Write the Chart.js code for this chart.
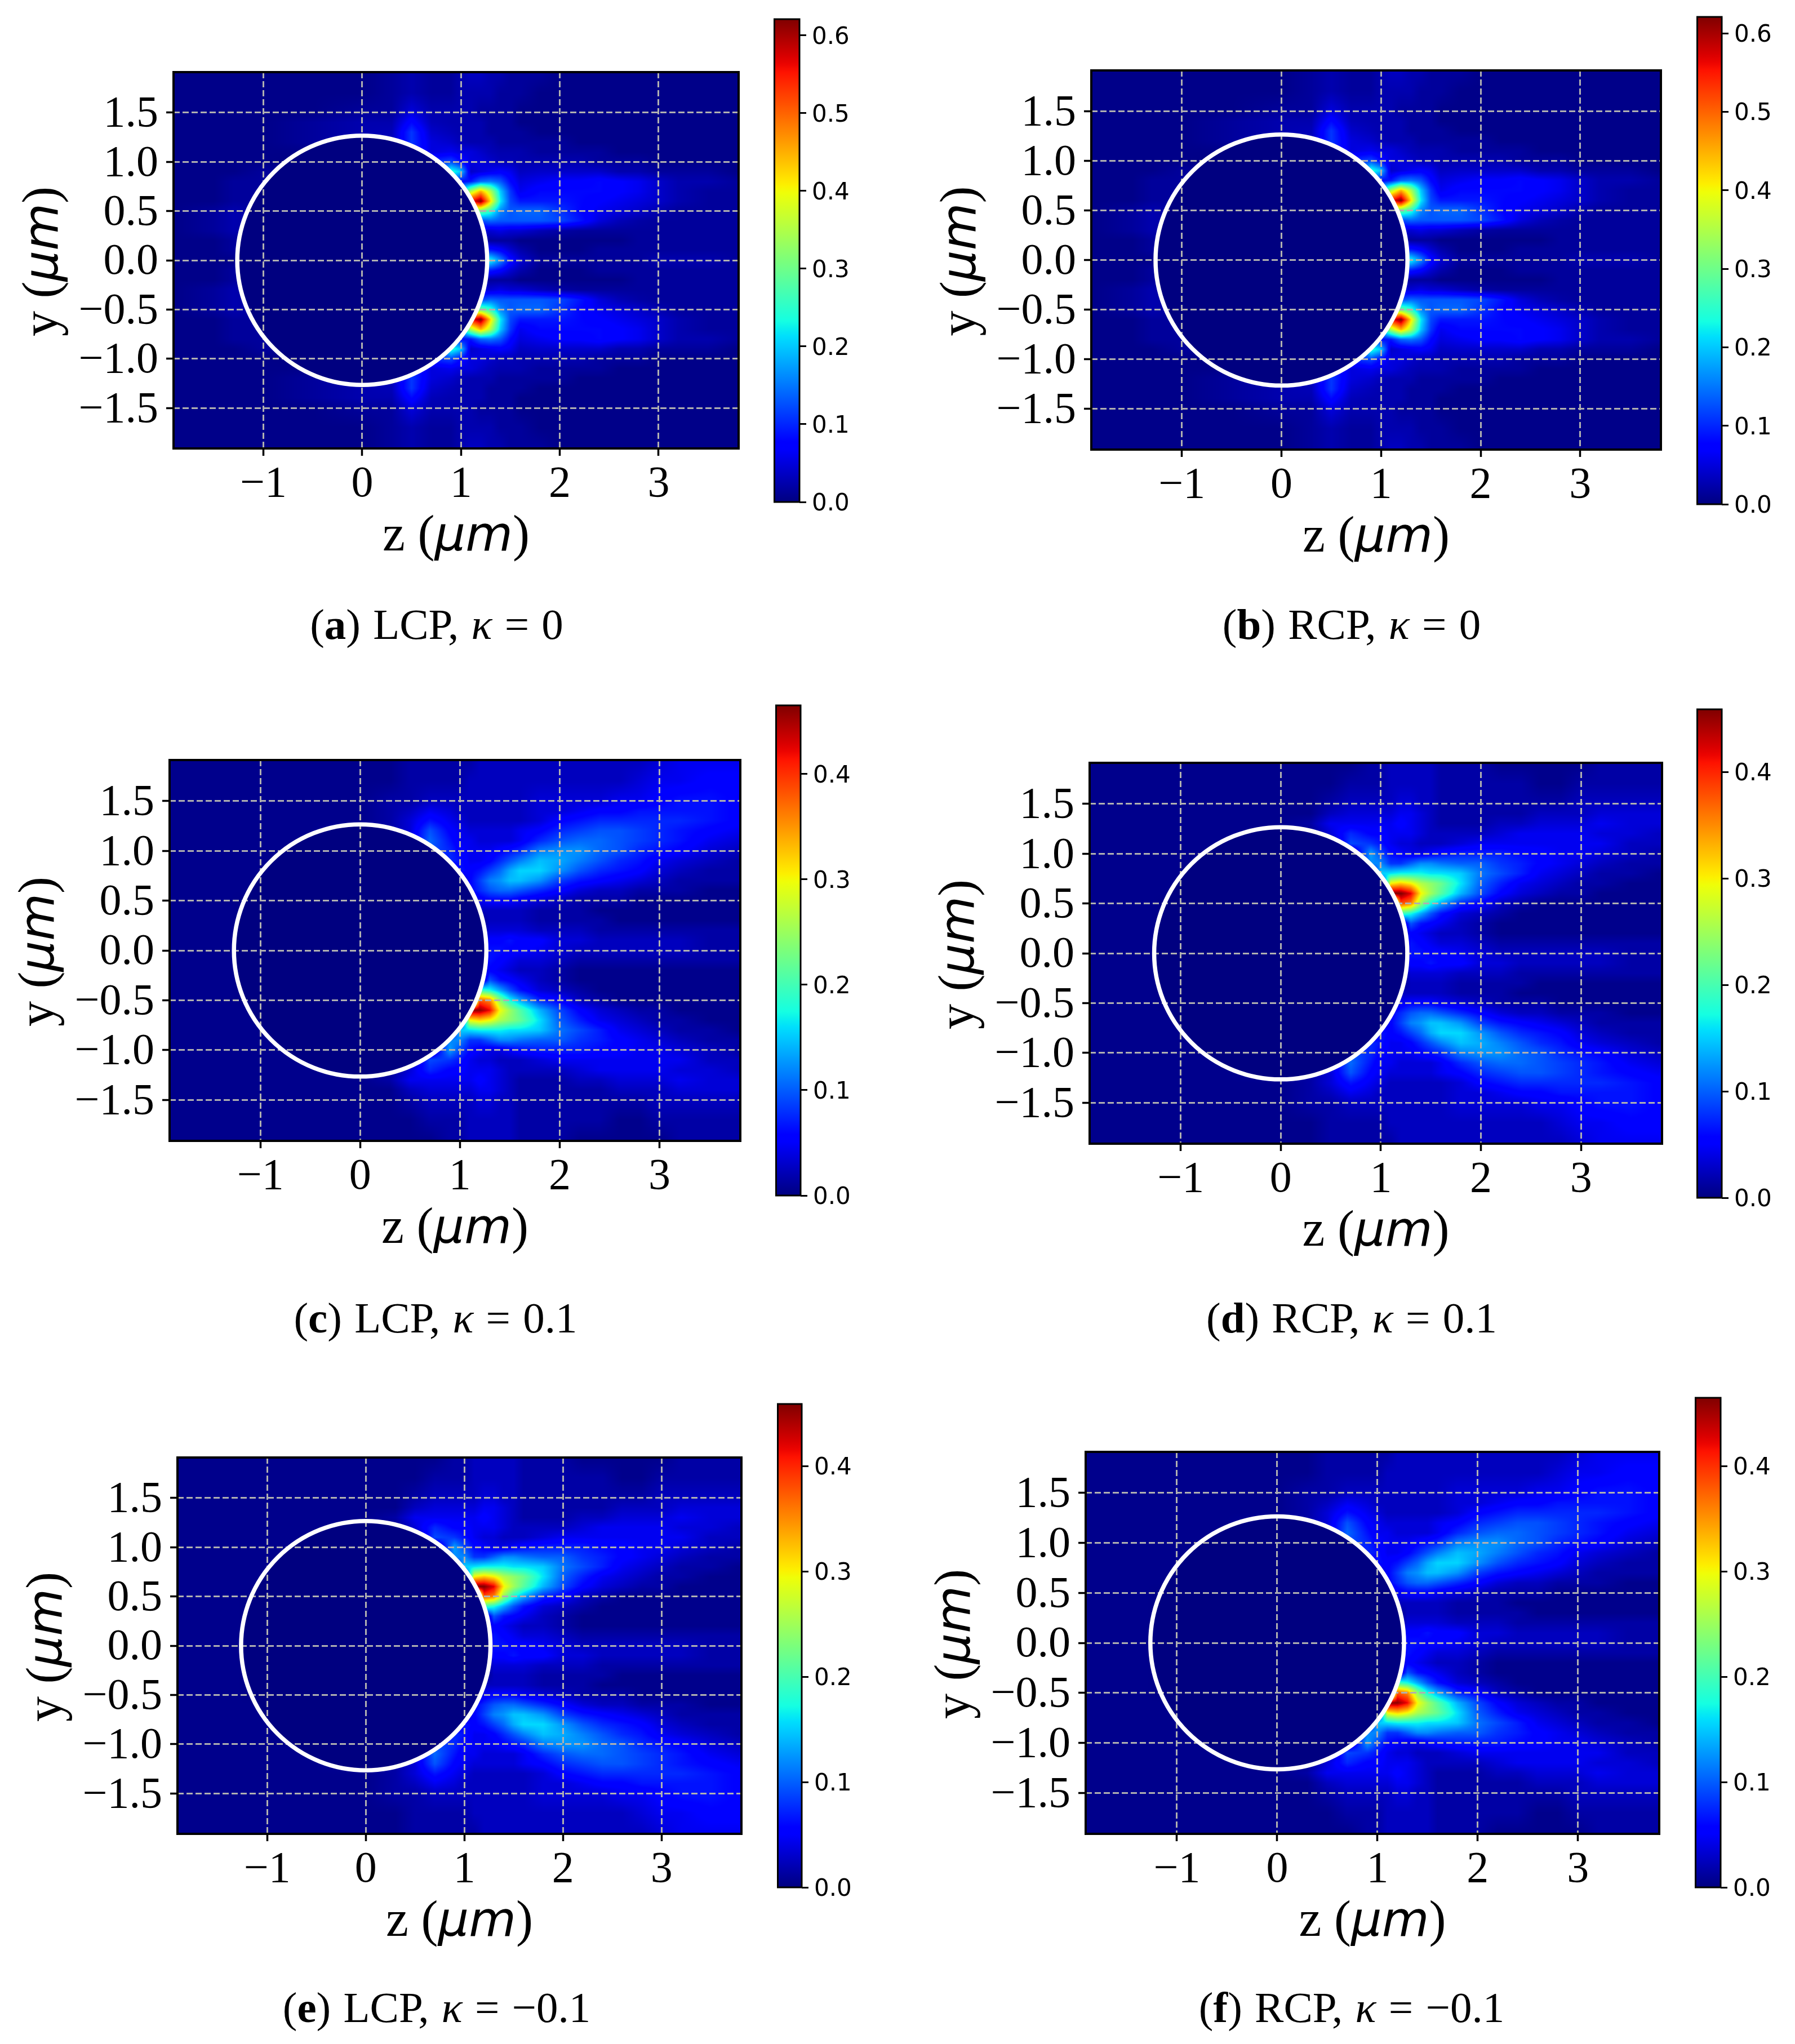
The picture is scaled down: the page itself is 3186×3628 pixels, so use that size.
<!DOCTYPE html>
<html>
<head>
<meta charset="utf-8">
<title>Field maps</title>
<script src="https://cdn.jsdelivr.net/npm/chart.js@4"></script>
<style>
  html, body { margin: 0; background: #fff; }
  #page { position: relative; width: 3186px; height: 3628px; overflow: hidden; }
  canvas { position: absolute; }
  .caption { position: absolute; transform: translateX(-50%); white-space: nowrap; font-family: "Liberation Serif", serif; font-size: 77px; line-height: 80px; word-spacing: 3px; color: #000; }
</style>
</head>
<body>
<div id="page"></div>
<script>
// grid stops of the maps (um)
const gridZ = [-1.9,-1.5,-1.3,-1,-0.5,0,0.3,0.5,0.7,0.9,1,1.1,1.2,1.3,1.4,1.5,1.6,1.8,2,2.2,2.4,2.6,2.8,3,3.2,3.5,3.8];
const gridY = [1.9,1.7,1.5,1.4,1.3,1.2,1.1,1,0.9,0.8,0.7,0.6,0.5,0.4,0.3,0.2,0.1,0,-0.1,-0.2,-0.3,-0.4,-0.5,-0.6,-0.7,-0.8,-0.9,-1,-1.1,-1.2,-1.3,-1.4,-1.5,-1.7,-1.9];

const zTicks = [-1, 0, 1, 2, 3];
const yTicks = [-1.5, -1, -0.5, 0, 0.5, 1, 1.5];
const zRange = [-1.91, 3.81];
const yRange = [-1.91, 1.91];
const circleRadius = 1.265;

// intensity in 0.01 units. kappa = 0, upper half only (map is symmetric)
const fieldZeroTop = [
  [0.5,0.5,0.5,0.5,0.5,0.5,1.5,2.5,1.5,1.5,2.5,3.5,3.5,2.5,2.5,1.5,1.5,1.5,0.5,0.5,0.5,0.5,0.5,0.5,0.5,0.5,0.5],
  [0.5,0.5,0.5,0.5,0.5,0.5,1.5,2.5,1.5,1.5,2.5,2.5,2.5,2.5,1.5,1.5,1.5,0.5,0.5,0.5,0.5,0.5,0.5,0.5,0.5,0.5,0.5],
  [0.5,0.5,0.5,0.5,0.5,1.5,1.5,5,2.5,2.5,2.5,2.5,1.5,1.5,1.5,1.5,0.5,0.5,0.5,0.5,0.5,0.5,0.5,0.5,0.5,0.5,0.5],
  [0.5,0.5,0.5,0.5,1.5,2.5,2.5,8,3,2.5,2.5,2.5,2.5,1.5,1.5,1.5,0.5,0.5,0.5,0.5,0.5,0.5,0.5,0.5,0.5,0.5,0.5],
  [0.5,0.5,0.5,0.5,1.5,2.5,3,11,4,3,2.5,2.5,2.5,1.5,1.5,1.5,1.5,0.5,0.5,0.5,0.5,0.5,0.5,0.5,0.5,0.5,0.5],
  [0.5,0.5,0.5,0.5,1.5,2.5,3,11,5,4,3,2.5,2.5,2.5,1.5,1.5,1.5,1.5,1.5,0.5,0.5,0.5,0.5,0.5,0.5,0.5,0.5],
  [0.5,0.5,0.5,0.5,0.5,0.5,0.5,11,5,6,5,5,4,3,2.5,2.5,2.5,1.5,1.5,1.5,1.5,0.5,0.5,0.5,0.5,0.5,0.5],
  [0.5,0.5,0.5,0.5,0,0,0,0,10,12,8,5,5,4,3,3,2.5,2.5,2.5,2.5,1.5,1.5,1.5,0.5,0.5,0.5,0.5],
  [0.5,0.5,0.5,1.5,0,0,0,0,0,25,20,4,5,6,7,6,3.5,4,4,4,4,2.5,2.5,1.5,1.5,1.5,0.5],
  [0.5,0.5,1.5,1.5,0,0,0,0,0,12,8,9,14,15,13,8,5,6,7,7,8,7,6,4,2.5,2.5,1.5],
  [0.5,0.5,1.5,1.5,0,0,0,0,0,0,20,35,45,35,20,11,6,8,8,8,8,7,6,4,2.5,1.5,1.5],
  [0.5,0.5,1.5,1.5,0,0,0,0,0,0,0,55,62,42,22,12,9,9,9,8,7,6,5,4,2.5,1.5,1.5],
  [0.5,1.5,2.5,1.5,0,0,0,0,0,0,0,30,30,25,16,13,14,14,11,8,6,5,4,2.5,1.5,1.5,1.5],
  [0.5,1.5,2.5,1.5,0,0,0,0,0,0,0,10,12,14,13,13,13,13,12,9,5,3,2,1.5,1.5,1.5,1.5],
  [0.5,1.5,2.5,0.5,0,0,0,0,0,0,0,0,5,4.5,5.5,4.5,4.5,3,2,1.5,1.5,1.5,1.5,1.5,1.5,1.5,1.5],
  [0.5,0.5,1.5,0.5,0,0,0,0,0,0,0,0,1.5,1.5,1.5,1.5,0.5,0.5,0.5,0.5,0.5,0.5,1.5,1.5,1.5,1.5,1.5],
  [0.5,0.5,1.5,0.5,0,0,0,0,0,0,0,0,9.5,9.5,7.5,4.5,2.5,0.5,0.5,0.5,1.5,1.5,1.5,1.5,1.5,1.5,1.5],
  [0.5,0.5,0.5,0.5,0,0,0,0,0,0,0,0,23,23,16,8.5,4.5,1.5,1.5,1.5,1.5,1.5,1.5,2.5,2.5,2.5,1.5]
];

// kappa != 0, strong lobe on the lower side
const fieldLobeDown = [
  [0.5,0.5,0.5,0.5,0.5,0.5,0.5,1.5,1.5,1.5,1.5,1.5,2.5,2.5,2.5,2.5,2.5,2.5,2.5,2.5,2.5,2.5,2.5,3.5,4.5,4.5,4.5],
  [0.5,0.5,0.5,0.5,0.5,0.5,0.5,1.5,1.5,1.5,1.5,2.5,2.5,2.5,2.5,2.5,2.5,2.5,2.5,2.5,2.5,2.5,3.5,4.5,4.5,5.5,5.5],
  [0.5,0.5,0.5,0.5,0.5,0.5,1.5,1.5,2.5,2.5,2.5,2.5,2.5,2.5,2.5,2.5,2.5,3.5,3.5,3.5,3.5,4.5,4.5,5.5,6.5,6.5,5.5],
  [0.5,0.5,0.5,0.5,0.5,0.5,1.5,2.5,4.5,3.5,2.5,2.5,2.5,2.5,2.5,2.5,2.5,3.5,3.5,4.5,5.5,5.5,6.5,6.5,6.5,6.5,5.5],
  [0.5,0.5,0.5,0.5,0.5,0.5,1.5,3.5,6.5,4.5,3.5,2.5,2.5,2.5,2.5,2.5,2.5,3.5,5.5,6.5,7.5,7.5,7.5,7.5,7.5,6.5,5.5],
  [0.5,0.5,0.5,0.5,0.5,1.5,1.5,3.5,9.5,5.5,4.5,3.5,3.5,3.5,3.5,3.5,4.5,5.5,7.5,8.5,9.5,9.5,8.5,7.5,6.5,5.5,4.5],
  [0.5,0.5,0.5,0.5,0.5,0.5,1.5,3.5,10.5,6.5,4.5,4.5,3.5,3.5,3.5,3.5,4.5,7.5,9.5,10.5,10.5,9.5,8.5,7.5,6.5,4.5,3.5],
  [0.5,0.5,0.5,0.5,0.5,0.5,0.5,0.5,9.5,7.5,5.5,4.5,4.5,4.5,5.5,6.5,7.5,11.5,12.5,12.5,10.5,9.5,7.5,6.5,5.5,3.5,2.5],
  [0.5,0.5,0.5,0.5,0,0,0,0,0,7.5,6.5,4.5,4.5,5.5,7.5,9.5,11.5,14.5,13.5,11.5,9.5,7.5,6.5,4.5,3.5,2.5,1.5],
  [0.5,0.5,0.5,0.5,0,0,0,0,0,0,6.5,5.5,6.5,8.5,10.5,13.5,15.5,15.5,12.5,9.5,7.5,6.5,5.5,3.5,2.5,1.5,1.5],
  [0.5,0.5,0.5,0.5,0,0,0,0,0,0,0,5.5,8.5,11.5,12.5,14.5,14.5,12.5,8.5,6.5,5.5,4.5,3.5,2.5,1.5,1.5,1.5],
  [0.5,0.5,0.5,0.5,0,0,0,0,0,0,0,5.5,7.5,9.5,10.5,10.5,9.5,7.5,5.5,3.5,2.5,2.5,1.5,1.5,1.5,0.5,0.5],
  [0.5,0.5,0.5,0,0,0,0,0,0,0,0,0,4.5,5.5,5.5,5.5,4.5,3.5,2.5,1.5,1.5,1.5,0.5,0.5,0.5,0.5,0.5],
  [0.5,0.5,0.5,0,0,0,0,0,0,0,0,0,2.5,2.5,2.5,2.5,2.5,1.5,1.5,1.5,0.5,0.5,0.5,0.5,0.5,0.5,0.5],
  [0.5,0.5,0.5,0,0,0,0,0,0,0,0,0,0,2.5,2.5,2.5,2.5,1.5,1.5,1.5,1.5,0.5,0.5,0.5,0.5,0.5,0.5],
  [0.5,0.5,0.5,0,0,0,0,0,0,0,0,0,0,3.5,3.5,3.5,3.5,2.5,2.5,2.5,1.5,1.5,1.5,1.5,1.5,1.5,1.5],
  [0.5,0.5,0.5,0,0,0,0,0,0,0,0,0,0,5.5,5.5,6.5,5.5,5.5,3.5,3.5,2.5,2.5,2.5,2.5,2.5,1.5,1.5],
  [0.5,0.5,0.5,0,0,0,0,0,0,0,0,0,0,6.5,6.5,5.5,5.5,4.5,3.5,2.5,2.5,2.5,2.5,2.5,2.5,1.5,1.5],
  [0.5,0.5,0.5,0,0,0,0,0,0,0,0,0,0,6.5,5.5,4.5,3.5,3.5,2.5,1.5,1.5,1.5,1.5,1.5,1.5,1.5,1.5],
  [0.5,0.5,0.5,0,0,0,0,0,0,0,0,0,0,5.5,4.5,3.5,2.5,2.5,1.5,0.5,0.5,0.5,0.5,0.5,0.5,0.5,0.5],
  [0.5,0.5,0.5,0,0,0,0,0,0,0,0,0,0,9.5,6.5,5.5,4.5,2.5,1.5,0.5,0.5,0.5,0.5,0.5,0.5,0.5,0.5],
  [0.5,0.5,0.5,0,0,0,0,0,0,0,0,0,20,17.5,13.5,9.5,6.5,3.5,2.5,1.5,0.5,0.5,0.5,0.5,0.5,0.5,0.5],
  [0.5,0.5,0.5,0,0,0,0,0,0,0,0,0,38,35.5,24.5,17.5,13.5,7.5,5.5,2.5,1.5,0.5,0.5,0.5,0.5,0.5,0.5],
  [0.5,0.5,0.5,0.5,0,0,0,0,0,0,0,46,46,42,30,25,21,14,9,5.5,3.5,2.5,1.5,1.5,0.5,0.5,0.5],
  [0.5,0.5,0.5,0.5,0,0,0,0,0,0,0,30,32,30,26,24,22,16,10,7,4.5,3.5,2.5,1.5,1.5,0.5,0.5],
  [0.5,0.5,0.5,0.5,0,0,0,0,0,0,15,16,17,17,17,16,16,15,11,9,7,4.5,3.5,2.5,1.5,1.5,0.5],
  [0.5,0.5,0.5,0.5,0,0,0,0,0,12,12,8,8,10,12,12,11,10,10,8,7,5.5,4.5,3.5,2.5,1.5,1.5],
  [0.5,0.5,0.5,0.5,0.5,0,0,0,0,13,9,6,5,4,4,5,6,7,7,7,6,5.5,4.5,4.5,3.5,2.5,1.5],
  [0.5,0.5,0.5,0.5,0.5,0.5,0.5,0.5,9,8,6.5,4.5,3.5,3.5,2.5,2.5,2.5,3.5,4.5,4.5,4.5,4.5,4.5,4.5,4.5,2.5,2.5],
  [0.5,0.5,0.5,0.5,0.5,0.5,0.5,3.5,7.5,5.5,5.5,4.5,4.5,4.5,3.5,2.5,2.5,2.5,2.5,3.5,4.5,4.5,4.5,4.5,3.5,3.5,2.5],
  [0.5,0.5,0.5,0.5,0.5,0.5,1.5,4.5,4.5,4.5,4.5,4.5,5.5,4.5,3.5,2.5,1.5,1.5,1.5,2.5,2.5,3.5,3.5,3.5,4.5,3.5,3.5],
  [0.5,0.5,0.5,0.5,0.5,0.5,0.5,2.5,3.5,3.5,3.5,3.5,4.5,4.5,3.5,2.5,1.5,1.5,1.5,1.5,1.5,2.5,2.5,2.5,3.5,3.5,3.5],
  [0.5,0.5,0.5,0.5,0.5,0.5,0.5,1.5,2.5,2.5,2.5,2.5,3.5,3.5,2.5,2.5,1.5,1.5,1.5,1.5,1.5,1.5,1.5,2.5,2.5,2.5,2.5],
  [0.5,0.5,0.5,0.5,0.5,0.5,0.5,0.5,1.5,1.5,1.5,2.5,2.5,2.5,2.5,2.5,1.5,1.5,1.5,1.5,1.5,0.5,0.5,1.5,1.5,1.5,1.5],
  [0.5,0.5,0.5,0.5,0.5,0.5,0.5,0.5,0.5,1.5,1.5,2.5,2.5,2.5,2.5,2.5,1.5,1.5,1.5,0.5,0.5,0.5,0.5,0.5,1.5,1.5,1.5]
];

const fieldZero = fieldZeroTop.concat(fieldZeroTop.slice(0, -1).reverse());
const fieldLobeUp = fieldLobeDown.slice().reverse();

// colorbar tops and ticks
const barMaxes = [0.621, 0.621, 0.465, 0.459, 0.459, 0.465];
const barTicksHigh = [0, 0.1, 0.2, 0.3, 0.4, 0.5, 0.6];
const barTicksLow = [0, 0.1, 0.2, 0.3, 0.4];
const panelFields = [fieldZero, fieldZero, fieldLobeDown, fieldLobeUp, fieldLobeUp, fieldLobeDown];
const panelTags = ['a', 'b', 'c', 'd', 'e', 'f'];
const panelPol = ['LCP', 'RCP', 'LCP', 'RCP', 'LCP', 'RCP'];
const panelKappa = ['0', '0', '0.1', '0.1', '\u22120.1', '\u22120.1'];

// page layout: axes box, colorbar box, caption centre
const axesBoxes = [
  [308, 1311, 128, 796], [1937, 2948, 125, 798],
  [301, 1314, 1349, 2025], [1934, 2950, 1354, 2030],
  [315, 1316, 2587, 3255], [1927, 2945, 2577, 3255]
];
const barBoxes = [
  [1373, 1419, 34, 891], [3011, 3056, 30, 895],
  [1376, 1421, 1252, 2122], [3011, 3056, 1259, 2126],
  [1379, 1423, 2492, 3350], [3008, 3054, 2481, 3350]
];
const captionSpots = [[775, 1108], [2399, 1108], [773, 2339], [2399, 2339], [775, 3563], [2399, 3563]];

function jetChannel(t, pts) {
  for (let i = 1; i < pts.length; i++) {
    if (t <= pts[i][0]) {
      const a = pts[i - 1], b = pts[i];
      return a[1] + (b[1] - a[1]) * (t - a[0]) / (b[0] - a[0]);
    }
  }
  return pts[pts.length - 1][1];
}
const jetR = [[0, 0], [0.35, 0], [0.66, 1], [0.89, 1], [1, 0.5]];
const jetG = [[0, 0], [0.125, 0], [0.375, 1], [0.64, 1], [0.91, 0], [1, 0]];
const jetB = [[0, 0.5], [0.11, 1], [0.34, 1], [0.65, 0], [1, 0]];
function jet(t) {
  t = Math.max(0, Math.min(1, t));
  return [255 * jetChannel(t, jetR), 255 * jetChannel(t, jetG), 255 * jetChannel(t, jetB)];
}

function locate(stops, v) {
  let i = 0;
  const up = stops[1] > stops[0];
  while (i < stops.length - 2 && (up ? v > stops[i + 1] : v < stops[i + 1])) i++;
  const t = (v - stops[i]) / (stops[i + 1] - stops[i]);
  return [i, Math.max(0, Math.min(1, t))];
}

// heat map goes in before the grid lines, sampled through the chart's scales
const heatPlugin = {
  id: 'heat',
  beforeDraw(chart, args, opts) {
    const area = chart.chartArea, sx = chart.scales.x, sy = chart.scales.y;
    const w = Math.round(area.right - area.left), h = Math.round(area.bottom - area.top);
    const img = chart.ctx.createImageData(w, h);
    const cols = [], rows = [];
    for (let i = 0; i < w; i++) { const z = sx.getValueForPixel(area.left + i + 0.5); cols.push([z, locate(gridZ, z)]); }
    for (let j = 0; j < h; j++) { const y = sy.getValueForPixel(area.top + j + 0.5); rows.push([y, locate(gridY, y)]); }
    let p = 0;
    for (let j = 0; j < h; j++) {
      const y = rows[j][0], r0 = opts.field[rows[j][1][0]], r1 = opts.field[rows[j][1][0] + 1], tj = rows[j][1][1];
      for (let i = 0; i < w; i++) {
        const z = cols[i][0], k = cols[i][1][0], ti = cols[i][1][1];
        let v = (r0[k] * (1 - ti) + r0[k + 1] * ti) * (1 - tj) + (r1[k] * (1 - ti) + r1[k + 1] * ti) * tj;
        if (Math.hypot(z, y) < circleRadius) v = 0;
        const c = jet(v / 100 / opts.max);
        img.data[p++] = c[0]; img.data[p++] = c[1]; img.data[p++] = c[2]; img.data[p++] = 255;
      }
    }
    chart.ctx.putImageData(img, Math.round(area.left), Math.round(area.top));
  },
  afterDatasetsDraw(chart) {
    const sx = chart.scales.x, sy = chart.scales.y, ctx = chart.ctx, area = chart.chartArea;
    ctx.save();
    ctx.strokeStyle = '#fff';
    ctx.lineWidth = 7.5;
    ctx.beginPath();
    ctx.ellipse(sx.getPixelForValue(0), sy.getPixelForValue(0),
      sx.getPixelForValue(circleRadius) - sx.getPixelForValue(0),
      sy.getPixelForValue(0) - sy.getPixelForValue(circleRadius), 0, 0, Math.PI * 2);
    ctx.stroke();
    ctx.strokeStyle = '#000';
    ctx.lineWidth = 4;
    ctx.strokeRect(area.left, area.top, area.right - area.left, area.bottom - area.top);
    ctx.restore();
  },
  afterDraw(chart) {
    const area = chart.chartArea, ctx = chart.ctx;
    const midX = (area.left + area.right) / 2, midY = (area.top + area.bottom) / 2;
    drawLabel(ctx, 'z', midX, area.bottom + 155, 0);
    drawLabel(ctx, 'y', area.left - 232, midY + 2, -Math.PI / 2);
  }
};

// mixed font axis label, serif letter + oblique mathtext unit
function drawLabel(ctx, letter, x, y, angle) {
  const runs = [
    [letter + ' (', '90px "Liberation Serif"'],
    ['\u03bcm', 'italic 86px "DejaVu Sans"'],
    [')', '90px "Liberation Serif"']
  ];
  ctx.save();
  ctx.translate(x, y);
  ctx.rotate(angle);
  ctx.fillStyle = '#000';
  ctx.textBaseline = 'alphabetic';
  ctx.textAlign = 'left';
  let total = 0;
  runs.forEach(r => { ctx.font = r[1]; total += ctx.measureText(r[0]).width; });
  let pos = -total / 2;
  runs.forEach(r => {
    ctx.font = r[1];
    ctx.fillText(r[0], pos, 26);
    pos += ctx.measureText(r[0]).width;
  });
  ctx.restore();
}

function addCanvas(left, top, w, h) {
  const c = document.createElement('canvas');
  c.width = w; c.height = h;
  c.style.left = left + 'px';
  c.style.top = top + 'px';
  document.getElementById('page').appendChild(c);
  return c;
}

function minusLabel(v, digits) {
  const s = Math.abs(v).toFixed(digits);
  return v < 0 ? '\u2212' + s : s;
}

// the axes get a fixed box, tick label overhang must not move the plot area
function fixBox(s, w, h) {
  if (w !== null) s.width = w;
  if (h !== null) s.height = h;
  s.paddingLeft = s.paddingRight = s.paddingTop = s.paddingBottom = 0;
}

function mapChart(i) {
  const [L, R, T, B] = axesBoxes[i];
  const padL = 280, padR = 20, padT = 20, padB = 230;
  const canvas = addCanvas(L - padL, T - padT, R - L + padL + padR, B - T + padT + padB);
  const tickFont = { family: '"Liberation Serif"', size: 78 };
  const gridOpts = { color: '#b0b0b0', lineWidth: 3, tickColor: '#000', tickWidth: 3.5, tickLength: 13 };
  new Chart(canvas, {
    type: 'scatter',
    data: { datasets: [{ data: [] }] },
    plugins: [heatPlugin],
    options: {
      responsive: false,
      animation: false,
      events: [],
      layout: { padding: { left: 0, right: padR, top: padT, bottom: 0 } },
      plugins: { legend: { display: false }, tooltip: { enabled: false }, heat: { field: panelFields[i], max: barMaxes[i] } },
      scales: {
        x: {
          type: 'linear', min: zRange[0], max: zRange[1],
          afterBuildTicks: s => { s.ticks = zTicks.map(v => ({ value: v })); },
          afterFit: s => fixBox(s, null, padB),
          grid: gridOpts,
          border: { display: false, dash: [11, 5] },
          ticks: { font: tickFont, color: '#000', padding: 5, maxRotation: 0, autoSkip: false, callback: v => minusLabel(v, 0) }
        },
        y: {
          type: 'linear', min: yRange[0], max: yRange[1],
          afterBuildTicks: s => { s.ticks = yTicks.map(v => ({ value: v })); },
          afterFit: s => fixBox(s, padL, null),
          grid: gridOpts,
          border: { display: false, dash: [11, 5] },
          ticks: { font: tickFont, color: '#000', padding: 14, labelOffset: 4, autoSkip: false, callback: v => minusLabel(v, 1) }
        }
      }
    }
  });
}

function barChart(i) {
  const [L, R, T, B] = barBoxes[i];
  const padR = 110, padV = 30;
  const canvas = addCanvas(L, T - padV, R - L + padR, B - T + 2 * padV);
  const max = barMaxes[i];
  new Chart(canvas, {
    type: 'bar',
    data: {
      labels: ['field'],
      datasets: [{
        data: [[0, max]],
        barPercentage: 1,
        categoryPercentage: 1,
        backgroundColor: c => {
          const sy = c.chart.scales.y;
          const y0 = sy ? sy.getPixelForValue(0) : NaN, y1 = sy ? sy.getPixelForValue(max) : NaN;
          if (!isFinite(y0) || !isFinite(y1)) return '#000080';
          const g = c.chart.ctx.createLinearGradient(0, y0, 0, y1);
          for (let s = 0; s <= 64; s++) {
            const rgb = jet(s / 64);
            g.addColorStop(s / 64, 'rgb(' + rgb.map(Math.round).join(',') + ')');
          }
          return g;
        }
      }]
    },
    plugins: [{
      id: 'barFrame',
      afterDraw(chart) {
        const a = chart.chartArea, ctx = chart.ctx;
        ctx.save();
        ctx.strokeStyle = '#000';
        ctx.lineWidth = 3;
        ctx.strokeRect(a.left + 1.5, a.top, a.right - a.left - 1.5, a.bottom - a.top);
        ctx.restore();
      }
    }],
    options: {
      responsive: false,
      animation: false,
      events: [],
      layout: { padding: { left: 0, right: 0, top: padV, bottom: padV } },
      plugins: { legend: { display: false }, tooltip: { enabled: false } },
      scales: {
        x: { display: false },
        y: {
          position: 'right', min: 0, max: max,
          afterBuildTicks: s => { s.ticks = (max > 0.5 ? barTicksHigh : barTicksLow).map(v => ({ value: v })); },
          afterFit: s => fixBox(s, padR, null),
          grid: { drawOnChartArea: false, tickColor: '#000', tickWidth: 3, tickLength: 12 },
          border: { display: false },
          ticks: { font: { family: '"DejaVu Sans"', size: 42 }, color: '#000', padding: 10, labelOffset: 4, autoSkip: false, callback: v => v.toFixed(1) }
        }
      }
    }
  });
}

function addCaption(i) {
  const d = document.createElement('div');
  d.className = 'caption';
  d.style.left = captionSpots[i][0] + 'px';
  d.style.top = (captionSpots[i][1] - 40) + 'px';
  d.innerHTML = '(<b>' + panelTags[i] + '</b>) ' + panelPol[i] + ', <i>\u03ba</i> = ' + panelKappa[i];
  document.getElementById('page').appendChild(d);
}

panelTags.forEach((t, i) => {
  mapChart(i);
  barChart(i);
  addCaption(i);
});
</script>
</body>
</html>
